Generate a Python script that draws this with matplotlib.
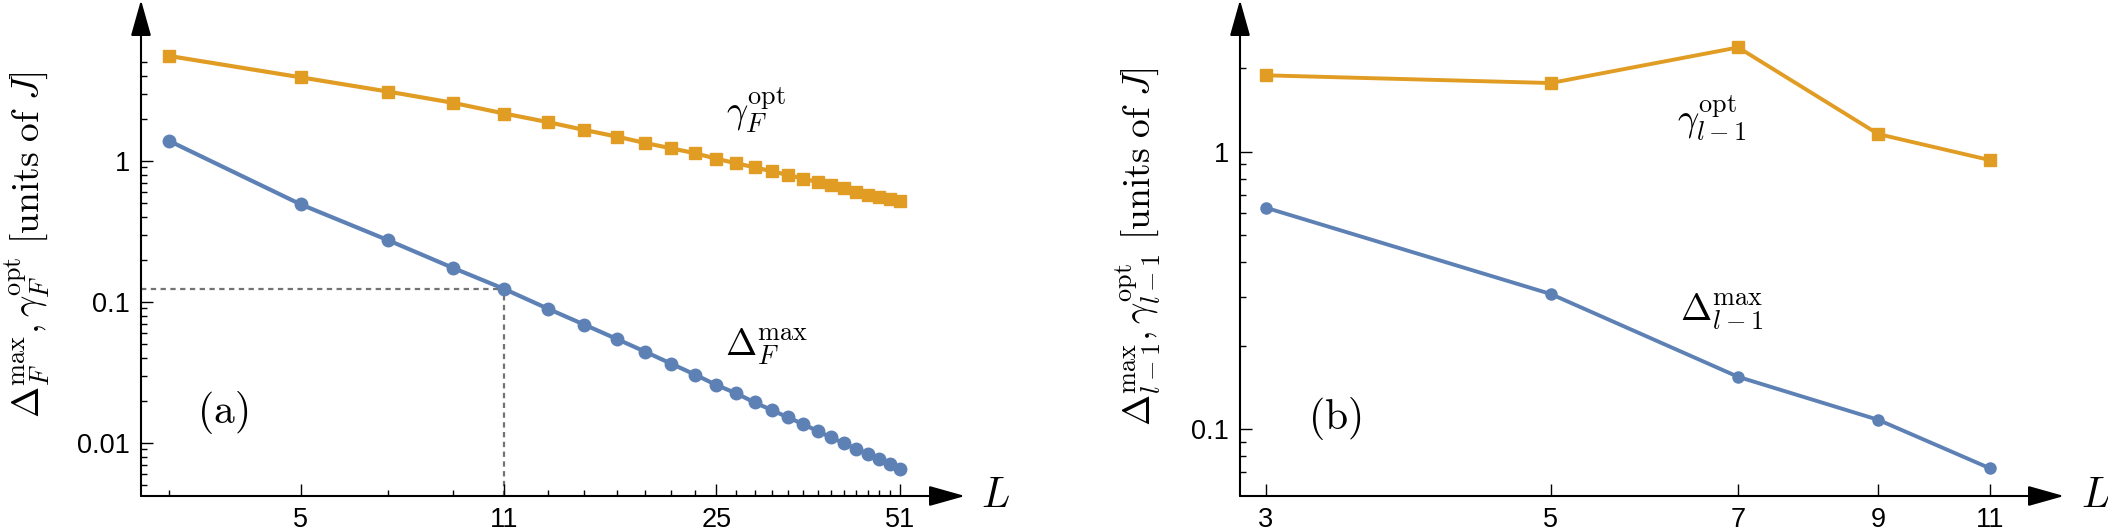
import numpy as np
import matplotlib
matplotlib.use("Agg")
import matplotlib.pyplot as plt
from matplotlib.ticker import FixedLocator, NullFormatter

plt.rcParams['mathtext.fontset'] = 'cm'
plt.rcParams['font.family'] = ['Liberation Sans', 'DejaVu Sans']

# ---- data (a) ----
L_a = [3, 5, 7, 9, 11, 13, 15, 17, 19, 21, 23, 25, 27, 29, 31, 33, 35, 37, 39, 41, 43, 45, 47, 49, 51]
delta_F = [1.39, 0.492, 0.275, 0.175, 0.1236, 0.0899, 0.069, 0.0547, 0.0443, 0.0365, 0.0306,
           0.0258, 0.0225, 0.0194, 0.0171, 0.0152, 0.0136, 0.01216, 0.01097, 0.00995, 0.00906,
           0.00835, 0.00766, 0.00706, 0.0065]
gamma_F = [5.56, 3.92, 3.11, 2.59, 2.17, 1.89, 1.66, 1.49, 1.34, 1.23, 1.136,
           1.038, 0.963, 0.902, 0.845, 0.796, 0.749, 0.710, 0.673, 0.640, 0.606,
           0.577, 0.552, 0.535, 0.518]
xticks_a = [5, 11, 25, 51]
yticks_a = [0.01, 0.1, 1]
yticklabels_a = ["0.01", "0.1", "1"]

# ---- data (b) ----
L_b = [3, 5, 7, 9, 11]
delta_l = [0.628, 0.307, 0.1543, 0.108, 0.0722]
gamma_l = [1.884, 1.767, 2.375, 1.157, 0.932]
xticks_b = [3, 5, 7, 9, 11]
yticks_b = [0.1, 1]
yticklabels_b = ["0.1", "1"]

BLUE = (0.368417, 0.506779, 0.709798)
ORANGE = (0.880722, 0.611041, 0.142051)

W, H = 2108, 532
fig = plt.figure(figsize=(W / 100, H / 100), dpi=100)


def px_axes(x0, x1, y_axis):
    # axes from pixel coords: x0..x1 horizontally, bottom at y_axis, top at 0
    return fig.add_axes([x0 / W, (H - y_axis) / H, (x1 - x0) / W, y_axis / H])


def style(ax, minor_x, minor_y, major_x, major_y, ylabels):
    ax.set_xscale('log')
    ax.set_yscale('log')
    for s in ax.spines.values():
        s.set_visible(False)
    ax.xaxis.set_major_locator(FixedLocator(major_x))
    ax.xaxis.set_minor_locator(FixedLocator(minor_x))
    ax.set_xticklabels([str(v) for v in major_x])
    ax.xaxis.set_minor_formatter(NullFormatter())
    ax.yaxis.set_major_locator(FixedLocator(major_y))
    ax.yaxis.set_minor_locator(FixedLocator(minor_y))
    ax.set_yticklabels(ylabels)
    ax.yaxis.set_minor_formatter(NullFormatter())
    ax.tick_params(which='major', direction='in', length=8.6, width=1.0, labelsize=19.5, pad=8)
    ax.tick_params(which='minor', direction='in', length=4.3, width=1.0)
    ax.tick_params(axis='x', which='both', top=False)
    ax.tick_params(axis='y', which='both', right=False)
    arrow = dict(arrowstyle='-|>,head_length=1.6,head_width=0.45', color='black',
                 lw=1.5, shrinkA=0, shrinkB=0, mutation_scale=14)
    ax.annotate('', xy=(1, 0), xytext=(0, 0), xycoords='axes fraction', arrowprops=arrow)
    ax.annotate('', xy=(0, 1), xytext=(0, 0), xycoords='axes fraction', arrowprops=arrow)


# ---------------- panel (a) ----------------
ax1 = px_axes(141, 965, 496)
ax1.set_xlim(2.692, 65.5)
ax1.set_ylim(0.00421, 13.86)
minor_xa = [v for v in L_a if v not in xticks_a]
minor_ya = [m * 10.0 ** e for e in (-3, -2, -1) for m in range(2, 10)] + [2, 3, 4, 5]
minor_ya = [v for v in minor_ya if v > 0.0045]
style(ax1, minor_xa, minor_ya, xticks_a, yticks_a, yticklabels_a)

i11 = L_a.index(11)
ax1.plot([ax1.get_xlim()[0], L_a[i11]], [delta_F[i11], delta_F[i11]], color='0.45',
         lw=1.6, ls=(0, (2.4, 2.0)), zorder=1)
ax1.plot([L_a[i11], L_a[i11]], [ax1.get_ylim()[0], delta_F[i11]], color='0.45',
         lw=1.6, ls=(0, (2.4, 2.0)), zorder=1)
ax1.plot(L_a, gamma_F, color=ORANGE, lw=3.0, marker='s', ms=9, zorder=3, clip_on=False)
ax1.plot(L_a, delta_F, color=BLUE, lw=3.0, marker='o', ms=9, zorder=3, clip_on=False)

fig.text(995 / W, (H - 496) / H, r'$L$', fontsize=30, ha='center', va='center')
fig.text(27 / W, (H - 245) / H, r'$\Delta_F^{\mathrm{max}}, \gamma_F^{\mathrm{opt}}\ [\mathrm{units\ of}\ J]$',
         fontsize=27, rotation=90, ha='center', va='center')
fig.text(756 / W, (H - 110) / H, r'$\gamma_F^{\mathrm{opt}}$', fontsize=27, ha='center', va='center')
fig.text(767 / W, (H - 347) / H, r'$\Delta_F^{\mathrm{max}}$', fontsize=27, ha='center', va='center')
fig.text(223 / W, (H - 412) / H, r'$\mathrm{(a)}$', fontsize=30, ha='center', va='center')

# ---------------- panel (b) ----------------
ax2 = px_axes(1240, 2064, 496)
ax2.set_xlim(2.864, 12.56)
ax2.set_ylim(0.0574, 3.52)
minor_yb = [0.07, 0.08, 0.09] + [m * 0.1 for m in range(2, 10)] + [2]
style(ax2, [], minor_yb, xticks_b, yticks_b, yticklabels_b)

ax2.plot(L_b, gamma_l, color=ORANGE, lw=2.8, marker='s', ms=8, zorder=3, clip_on=False)
ax2.plot(L_b, delta_l, color=BLUE, lw=2.8, marker='o', ms=8, zorder=3, clip_on=False)

fig.text(2095 / W, (H - 496) / H, r'$L$', fontsize=30, ha='center', va='center')
fig.text(1138 / W, (H - 247) / H, r'$\Delta_{l-1}^{\mathrm{max}}, \gamma_{l-1}^{\mathrm{opt}}\ [\mathrm{units\ of}\ J]$',
         fontsize=27, rotation=90, ha='center', va='center')
fig.text(1712 / W, (H - 118) / H, r'$\gamma_{l-1}^{\mathrm{opt}}$', fontsize=27, ha='center', va='center')
fig.text(1722 / W, (H - 312) / H, r'$\Delta_{l-1}^{\mathrm{max}}$', fontsize=27, ha='center', va='center')
fig.text(1335 / W, (H - 418) / H, r'$\mathrm{(b)}$', fontsize=30, ha='center', va='center')

fig.savefig('out.png', dpi=100)
